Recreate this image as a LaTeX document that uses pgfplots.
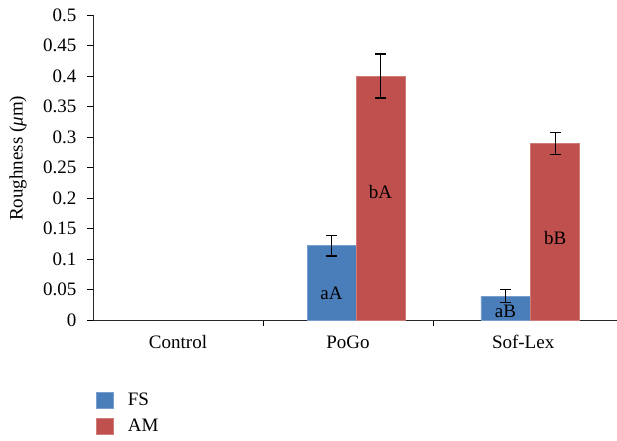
\documentclass[border=0pt]{standalone}
\usepackage{fontspec}
\setmainfont{Liberation Serif}
\usepackage{pgfplots}
\pgfplotsset{compat=1.18}
\definecolor{fsblue}{HTML}{4A7EBB}
\definecolor{amred}{HTML}{C0504D}
\begin{document}
\begin{tikzpicture}[x=1pt,y=1pt]
\useasboundingbox (0,0) rectangle (617,440);
\begin{axis}[
  at={(93pt,120pt)}, anchor=south west,
  scale only axis, width=524pt, height=305pt,
  xmin=-0.5, xmax=2.582, ymin=0, ymax=0.5,
  axis x line*=bottom, axis y line*=left,
  axis line style={line width=1pt, black!85},
  tick align=outside, major tick length=6pt,
  tick style={black, line width=0.9pt},
  ytick={0,0.05,...,0.5},
  yticklabels={0,0.05,0.1,0.15,0.2,0.25,0.3,0.35,0.4,0.45,0.5},
  yticklabel style={xshift=-7pt},
  xtick={0.5,1.5}, xticklabels={},
  extra x ticks={0,1,2.03},
  extra x tick labels={Control,PoGo,Sof-Lex},
  extra x tick style={major tick length=0pt, xticklabel style={yshift=-12pt}},
  tick label style={font=\fontsize{19}{21}\selectfont},
  ylabel={Roughness ({\itshape μ}m)},
  ylabel style={font=\fontsize{19}{21}\selectfont, at={(axis description cs:0,0.53)}, anchor=center, yshift=75pt},
  legend style={at={(0,0)}, anchor=north west, xshift=3pt, yshift=-71pt,
    draw=none, fill=none, font=\fontsize{19}{21}\selectfont,
    row sep=8pt, inner sep=0pt,
    legend cell align=left},
  legend image code/.code={\fill[#1] (0pt,-8pt) rectangle (17pt,8pt);},
  clip=false,
]
\addplot[ybar, bar width=49pt, bar shift=0pt, fill=fsblue, draw=fsblue!75!white, line width=0.6pt,
  error bars/.cd, y dir=both, y explicit,
  error bar style={black, line width=1.1pt},
  error mark options={rotate=90, mark size=5.5pt, black, line width=1.1pt}]
  coordinates {(0.903,0.122) +- (0,0.017) (1.926,0.039) +- (0,0.011)};
\addlegendentry{\hspace{12pt}FS}
\addplot[ybar, bar width=49pt, bar shift=0pt, fill=amred, draw=amred!75!white, line width=0.6pt,
  error bars/.cd, y dir=both, y explicit,
  error bar style={black, line width=1.1pt},
  error mark options={rotate=90, mark size=5.5pt, black, line width=1.1pt}]
  coordinates {(1.191,0.400) +- (0,0.036) (2.218,0.290) +- (0,0.018)};
\addlegendentry{\hspace{12pt}AM}
\node[font=\fontsize{19}{21}\selectfont] at (axis cs:0.903,0.044) {aA};
\node[font=\fontsize{19}{21}\selectfont] at (axis cs:1.191,0.21) {bA};
\node[font=\fontsize{19}{21}\selectfont] at (axis cs:1.926,0.0137) {aB};
\node[font=\fontsize{19}{21}\selectfont] at (axis cs:2.218,0.134) {bB};
\end{axis}
\end{tikzpicture}
\end{document}
